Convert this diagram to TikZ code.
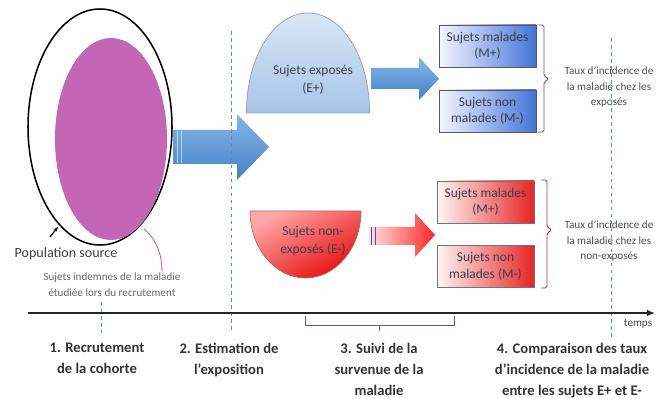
\documentclass[tikz,border=0pt]{standalone}
\usepackage{fontspec}
\setmainfont{Carlito}
\usetikzlibrary{shapes.geometric, arrows.meta}
\definecolor{purp}{HTML}{C266B5}
\definecolor{dashblue}{HTML}{6A8AB4}
\definecolor{boxblue}{HTML}{4474D8}
\definecolor{boxred}{HTML}{E62525}
\definecolor{arrtop}{HTML}{86B6E8}
\definecolor{arrbot}{HTML}{4482C8}
\definecolor{dometop}{HTML}{D8E6F5}
\definecolor{domebot}{HTML}{A8C5E7}
\definecolor{txtgray}{HTML}{3A3F48}
\begin{document}
\begin{tikzpicture}[x=0.03cm,y=-0.03cm]
					\tikzstyle{bluebox} = [rectangle,draw=black!65,line width=0.6pt,left color=blue!4,right color=boxblue,minimum width=2.91cm,minimum height=1.26cm,align=center,inner sep=0pt,font=\fontsize{11.5}{14}\selectfont,text=txtgray]
					\tikzstyle{redbox} = [rectangle,draw=black!55,line width=0.6pt,left color=red!4,right color=boxred,minimum width=2.91cm,minimum height=1.26cm,align=center,inner sep=0pt,font=\fontsize{11.5}{14}\selectfont,text=txtgray]
					\tikzstyle{label} = [align=center,inner sep=0pt,font=\fontsize{9.5}{13.5}\selectfont,text=black!70]
					\tikzstyle{steplabel} = [align=center,anchor=north,inner sep=0pt,font=\bfseries\fontsize{12.5}{18}\selectfont,text=black!80]
					\tikzstyle{timeline} = [dashed,dashblue,line width=0.8pt]
					\useasboundingbox (0,0) rectangle (667,399);
					\draw[black,line width=1.3pt] (100,127) ellipse [x radius=72, y radius=118];
					\fill[purp] (111,139) ellipse [x radius=56, y radius=101];
					\coordinate (pop) at (100,127);
					\coordinate (ind) at (111,139);
					\shade[top color=arrtop,bottom color=arrbot] (173,130) -- (237,130) -- (237,114) -- (269,147) -- (237,180) -- (237,164) -- (173,164) -- cycle;
					\draw[white,line width=0.5pt,opacity=0.6] (177,131) -- (177,163) (181,131) -- (181,163);
					\draw[top color=dometop,bottom color=domebot,draw=blue!30!black!40,line width=0.6pt] (246.5,113) -- (246.5,112) .. controls (246.5,57) and (274,13) .. (308,13) .. controls (342,13) and (369.5,57) .. (369.5,112) -- (369.5,113) -- cycle;
					\node[font=\fontsize{11.5}{15}\selectfont,text=txtgray,align=center] (ep) at (313,80) {Sujets exposés\\(E+)};
					\draw[top color=red!35,bottom color=red!90!black!95,shading angle=30,draw=red!50!black!60,line width=0.6pt] (250,211) -- (361,211) .. controls (361,248) and (336,278) .. (305.5,278) .. controls (275,278) and (250,248) .. (250,211) -- cycle;
					\node[font=\fontsize{11.5}{15}\selectfont,text=txtgray,align=center] (em) at (313,241) {Sujets non-\\exposés (E-)};
					\shade[top color=arrtop,bottom color=arrbot] (371,68) -- (419,68) -- (419,57) -- (439,79) -- (419,100) -- (419,89) -- (371,89) -- cycle;
					\shade[left color=red!12,right color=red!85] (369,227) -- (415,227) -- (415,213) -- (435,235) -- (415,257) -- (415,245) -- (369,245) -- cycle;
					\draw[blue!40!gray,line width=0.6pt] (371,227) -- (371,245) (375,227) -- (375,245);
					\node[bluebox] (m1) at (487.5,46) {Sujets malades\\(M+)};
					\node[bluebox] (m2) at (487.5,111) {Sujets non\\malades (M-)};
					\node[redbox] (r1) at (485.5,202) {Sujets malades\\(M+)};
					\node[redbox] (r2) at (485.5,266.5) {Sujets non\\malades (M-)};
					\draw[blue!30!gray,line width=0.8pt,rounded corners=1.5pt] (538,25) -- (544,25) -- (544,76) -- (549,79) -- (544,82) -- (544,132) -- (538,132);
					\draw[red!75!black!80,line width=0.8pt,rounded corners=1.5pt] (541,180) -- (547,180) -- (547,227) -- (552,230) -- (547,233) -- (547,288) -- (541,288);
					\node[label] (tp) at (609,87) {Taux d'incidence de\\la maladie chez les\\exposés};
					\node[label] (tm) at (609,241) {Taux d'incidence de\\la maladie chez les\\non-exposés};
					\node[font=\fontsize{12}{14}\selectfont,text=black!75,inner sep=0pt] (ps) at (66,254) {Population source};
					\draw[-{Stealth[length=4pt]},line width=1pt] (50,237) -- (58,227);
					\node[label,text=black!60] (si) at (112,285) {Sujets indemnes de la maladie\\étudiée lors du recrutement};
					\draw[purp,line width=0.8pt] (144,229) .. controls (157,240) and (162,255) .. (162,272);
					\draw[timeline] (101,302) -- (101,333);
					\draw[timeline] (231,31) -- (231,333);
					\draw[timeline] (611,38) -- (611,338);
					\coordinate (t0) at (28,313);
					\coordinate (t1) at (655,313);
					\draw[-{Latex[length=7pt,width=6pt]},line width=1.3pt,black!85] (t0) -- (t1);
					\node[label] (tps) at (638,324) {temps};
					\draw[blue!30!gray,line width=0.8pt] (305,316) -- (305,325) -- (454,325) -- (454,316);
					\draw[blue!30!gray,line width=0.8pt] (379,325) -- (379,331);
					\node[steplabel] (s1) at (97,343) {1. Recrutement\\de la cohorte};
					\node[steplabel] (s2) at (229,343) {2. Estimation de\\l'exposition};
					\node[steplabel] (s3) at (379,343) {3. Suivi de la\\survenue de la\\maladie};
					\node[steplabel] (s4) at (572,343) {4. Comparaison des taux\\d'incidence de la maladie\\entre les sujets E+ et E-};
					\end{tikzpicture}
\end{document}
